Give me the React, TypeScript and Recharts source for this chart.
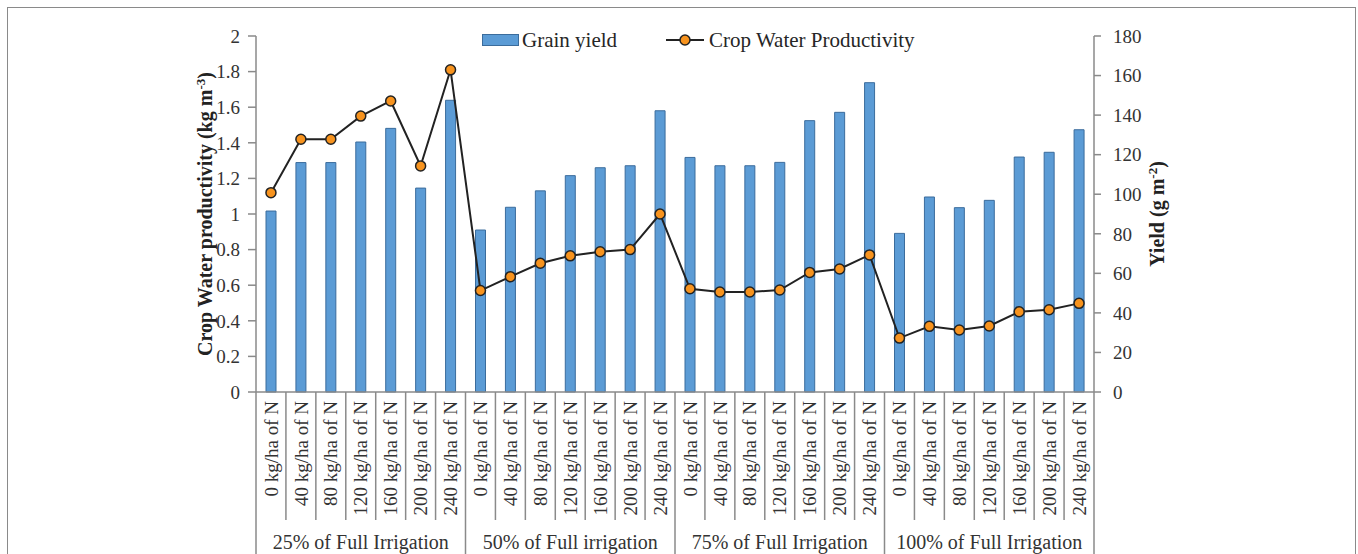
import React from 'react';
import { ComposedChart, Bar, Line, XAxis, YAxis, Legend } from 'recharts';

// ---------- data ----------
const irrigationLevels = [
  '25% of Full Irrigation',
  '50% of Full irrigation',
  '75% of Full Irrigation',
  '100% of Full Irrigation',
];

const nitrogenRates = [
  '0 kg/ha of N',
  '40 kg/ha of N',
  '80 kg/ha of N',
  '120 kg/ha of N',
  '160 kg/ha of N',
  '200 kg/ha of N',
  '240 kg/ha of N',
];

// Grain yield (g m-2), right axis
const grainYield = [
  91.5, 116, 116, 126.4, 133.3, 103.1, 147.5,
  81.9, 93.4, 101.7, 109.4, 113.4, 114.4, 142.2,
  118.6, 114.4, 114.4, 116.1, 137.2, 141.4, 156.4,
  80.2, 98.6, 93.2, 96.9, 118.8, 121.2, 132.6,
];

// Crop water productivity (kg m-3), left axis
const cropWaterProductivity = [
  1.12, 1.42, 1.42, 1.55, 1.635, 1.27, 1.81,
  0.57, 0.648, 0.723, 0.765, 0.788, 0.8, 1.0,
  0.58, 0.562, 0.562, 0.573, 0.672, 0.691, 0.77,
  0.303, 0.369, 0.348, 0.371, 0.451, 0.462, 0.498,
];

const leftTicks = [0, 0.2, 0.4, 0.6, 0.8, 1, 1.2, 1.4, 1.6, 1.8, 2];
const rightTicks = [0, 20, 40, 60, 80, 100, 120, 140, 160, 180];

const seriesNames = { bar: 'Grain yield', line: 'Crop Water Productivity' };

const data = grainYield.map((y, i) => ({
  idx: i,
  n: nitrogenRates[i % nitrogenRates.length],
  group: irrigationLevels[Math.floor(i / nitrogenRates.length)],
  yield: y,
  cwp: cropWaterProductivity[i],
}));

// ---------- layout / style ----------
const W = 1358;
const H = 554;
const PLOT_LEFT = 256;
const PLOT_RIGHT = 1094;
const PLOT_TOP = 36;
const X1_H = 130;
const X2_H = 32;
const PLOT_BOTTOM = H - X1_H - X2_H;
const PLOT_W = PLOT_RIGHT - PLOT_LEFT;
const HALF_BAND = PLOT_W / data.length / 2;
const GROUP_HALF = PLOT_W / irrigationLevels.length / 2;

const FONT = "'Liberation Serif', 'Times New Roman', serif";
const AXIS = '#8a8a8a';
const TEXT = '#333333';
const BAR_FILL = '#5B9BD5';
const BAR_STROKE = '#3B6C9C';
const DOT_FILL = '#F7931E';
const LINE_C = '#222222';

const NTick = (props: any) => {
  const { x, payload, index } = props;
  const divider = index % nitrogenRates.length !== 0;
  return (
    <g>
      {divider && (
        <line x1={x - HALF_BAND} x2={x - HALF_BAND} y1={PLOT_BOTTOM} y2={PLOT_BOTTOM + 128} stroke={AXIS} strokeWidth={1.5} />
      )}
      <text
        transform={`translate(${x},${PLOT_BOTTOM + 9}) rotate(-90)`}
        textAnchor="end"
        dy="0.35em"
        fontFamily={FONT}
        fontSize={19}
        fill={TEXT}
      >
        {payload.value}
      </text>
    </g>
  );
};

const GroupTick = (props: any) => {
  const { x, payload, index } = props;
  const last = index === irrigationLevels.length - 1;
  return (
    <g>
      <line x1={x - GROUP_HALF} x2={x - GROUP_HALF} y1={PLOT_BOTTOM} y2={H + 10} stroke={AXIS} strokeWidth={1.5} />
      {last && <line x1={x + GROUP_HALF} x2={x + GROUP_HALF} y1={PLOT_BOTTOM} y2={H + 10} stroke={AXIS} strokeWidth={1.5} />}
      <text x={x} y={H - 5} textAnchor="middle" fontFamily={FONT} fontSize={20} fill={TEXT}>
        {payload.value}
      </text>
    </g>
  );
};

const LeftTitle = (props: any) => {
  const vb = props.viewBox || { x: 0, y: PLOT_TOP, width: PLOT_LEFT, height: PLOT_BOTTOM - PLOT_TOP };
  const cx = vb.x + 205;
  const cy = vb.y + vb.height / 2;
  return (
    <text
      transform={`translate(${cx},${cy}) rotate(-90)`}
      textAnchor="middle"
      dy="0.35em"
      fontFamily={FONT}
      fontSize={20}
      fontWeight="bold"
      fill="#222"
    >
      Crop Water productivity  (kg m
      <tspan fontSize={13} dy="-0.55em">-3</tspan>
      <tspan dy="0.35em">)</tspan>
    </text>
  );
};

const RightTitle = (props: any) => {
  const vb = props.viewBox || { x: PLOT_RIGHT, y: PLOT_TOP, width: W - PLOT_RIGHT, height: PLOT_BOTTOM - PLOT_TOP };
  const cx = vb.x + 63;
  const cy = vb.y + vb.height / 2;
  return (
    <text
      transform={`translate(${cx},${cy}) rotate(-90)`}
      textAnchor="middle"
      dy="0.35em"
      fontFamily={FONT}
      fontSize={20}
      fontWeight="bold"
      fill="#222"
    >
      Yield (g m
      <tspan fontSize={13} dy="-0.55em">-2</tspan>
      <tspan dy="0.35em">)</tspan>
    </text>
  );
};

const renderLegend = () => (
  <div
    style={{
      display: 'flex',
      alignItems: 'center',
      fontFamily: FONT,
      fontSize: 21,
      color: '#262626',
      whiteSpace: 'nowrap',
      lineHeight: '24px',
    }}
  >
    <svg width={37} height={12}>
      <rect x={0.5} y={0.5} width={36} height={11} fill={BAR_FILL} stroke={BAR_STROKE} strokeWidth={1} />
    </svg>
    <span style={{ marginLeft: 3 }}>{seriesNames.bar}</span>
    <svg width={40} height={14} style={{ marginLeft: 48 }}>
      <line x1={1} x2={39} y1={7} y2={7} stroke={LINE_C} strokeWidth={2} />
      <circle cx={20} cy={7} r={5} fill={DOT_FILL} stroke={LINE_C} strokeWidth={1.5} />
    </svg>
    <span style={{ marginLeft: 4 }}>{seriesNames.line}</span>
  </div>
);

export default function App() {
  return (
    <div style={{ position: 'absolute', left: 0, top: 0, width: W, height: H, overflow: 'hidden', background: '#fff' }}>
      <ComposedChart
        width={W}
        height={H}
        data={data}
        margin={{ top: PLOT_TOP, right: 0, bottom: 0, left: 0 }}
        barCategoryGap={0}
        barGap={0}
      >
        <XAxis
          xAxisId={0}
          dataKey="n"
          interval={0}
          height={X1_H}
          tickLine={false}
          axisLine={{ stroke: AXIS, strokeWidth: 1.5 }}
          tick={<NTick />}
        />
        <XAxis
          xAxisId="g"
          dataKey="group"
          allowDuplicatedCategory={false}
          interval={0}
          height={X2_H}
          tickLine={false}
          axisLine={false}
          tick={<GroupTick />}
        />
        <YAxis
          yAxisId="left"
          orientation="left"
          width={PLOT_LEFT}
          domain={[0, 2]}
          ticks={leftTicks}
          interval={0}
          tickSize={8}
          tickMargin={8}
          axisLine={{ stroke: AXIS, strokeWidth: 1.5 }}
          tickLine={{ stroke: AXIS, strokeWidth: 1.5 }}
          tick={{ fill: TEXT, fontSize: 19, fontFamily: FONT }}
          label={(p: any) => <LeftTitle {...p} />}
        />
        <YAxis
          yAxisId="right"
          orientation="right"
          width={W - PLOT_RIGHT}
          domain={[0, 180]}
          ticks={rightTicks}
          interval={0}
          tickSize={7}
          tickMargin={12}
          axisLine={{ stroke: AXIS, strokeWidth: 1.5 }}
          tickLine={{ stroke: AXIS, strokeWidth: 1.5 }}
          tick={{ fill: TEXT, fontSize: 19, fontFamily: FONT, textAnchor: 'start' }}
          label={(p: any) => <RightTitle {...p} />}
        />
        <Legend
          verticalAlign="middle"
          align="center"
          layout="horizontal"
          content={renderLegend}
          wrapperStyle={{ top: 28, left: 482, width: 520 }}
        />
        <Bar
          xAxisId={0}
          yAxisId="right"
          dataKey="yield"
          name={seriesNames.bar}
          fill={BAR_FILL}
          stroke={BAR_STROKE}
          strokeWidth={1}
          barSize={10}
          isAnimationActive={false}
        />
        <Line
          xAxisId={0}
          yAxisId="left"
          type="linear"
          dataKey="cwp"
          name={seriesNames.line}
          stroke={LINE_C}
          strokeWidth={2}
          dot={{ r: 5, fill: DOT_FILL, stroke: LINE_C, strokeWidth: 1.5 }}
          activeDot={false}
          isAnimationActive={false}
        />
      </ComposedChart>
      <div
        style={{
          position: 'absolute',
          left: 7,
          top: 7,
          width: 1349,
          height: 700,
          border: '1.5px solid #8a8a8a',
          boxSizing: 'border-box',
          pointerEvents: 'none',
        }}
      />
    </div>
  );
}
